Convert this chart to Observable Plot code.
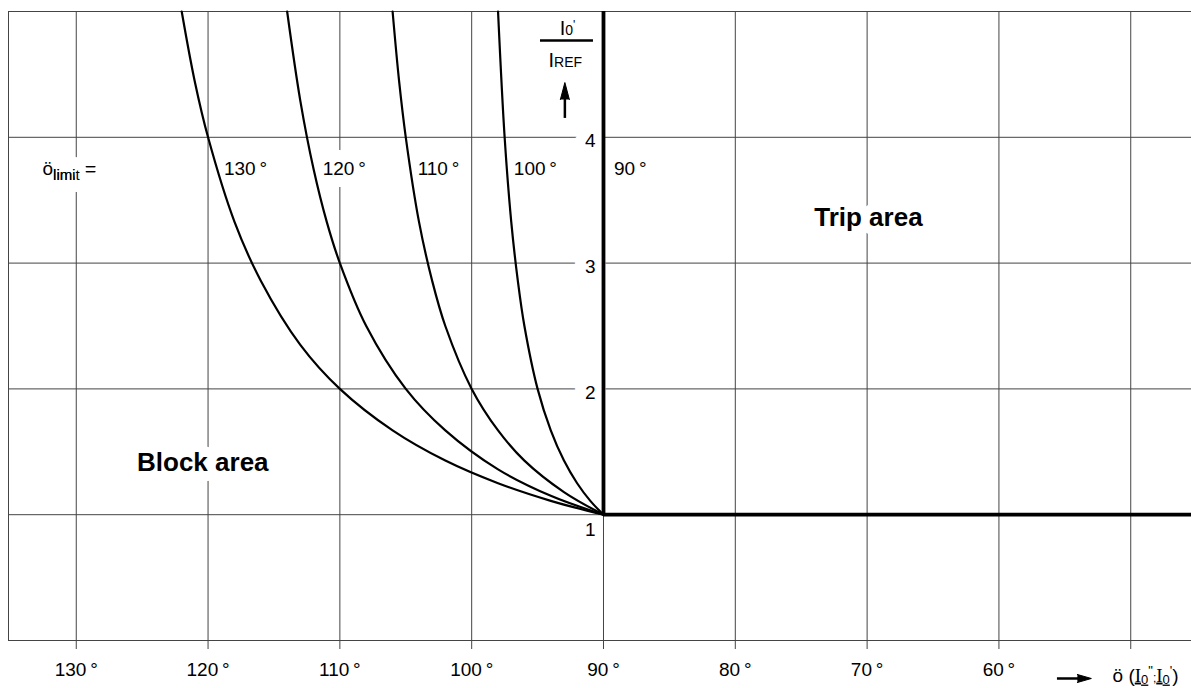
<!DOCTYPE html>
<html><head><meta charset="utf-8">
<script src="https://cdn.jsdelivr.net/npm/d3@7"></script>
<script src="https://cdn.jsdelivr.net/npm/@observablehq/plot@0.6"></script>
<style>
html,body{margin:0;padding:0;background:#fff;}
#chart svg{display:block;}
</style></head><body><div id="chart"></div>
<script>
// ---- data ----
const xTicks = [130, 120, 110, 100, 90, 80, 70, 60, 50];
const xTickLabels = ["130\u2009°", "120\u2009°", "110\u2009°", "100\u2009°", "90\u2009°", "80\u2009°", "70\u2009°", "60\u2009°", ""];
const yTicks = [1, 2, 3, 4];
const limitAngles = [130, 120, 110, 100];
const limitLabels = ["130\u2009°", "120\u2009°", "110\u2009°", "100\u2009°", "90\u2009°"];
// [phi (deg), I0'/IREF]
const curve130 = [[90,1.00],[94,1.11],[98,1.25],[102,1.43],[106,1.67],[110,2.00],[113,2.35],[116,2.86],[118,3.33],[120,4.00],[121,4.44],[122,5.00]];
const curve120 = [[90,1.00],[94,1.15],[98,1.36],[102,1.67],[105,2.00],[108,2.50],[110,3.00],[111,3.33],[112,3.75],[113,4.29],[114,5.00]];
const curve110 = [[90,1.00],[93,1.18],[96,1.43],[98,1.67],[100,2.00],[102,2.50],[103,2.86],[104,3.33],[105,4.00],[105.5,4.44],[106,5.00]];
const curve100 = [[90,1.00],[91,1.11],[92,1.25],[93,1.43],[94,1.67],[95,2.00],[96,2.50],[96.5,2.86],[97,3.33],[97.5,4.00],[98,5.00]];

const curveRows = [curve130, curve120, curve110, curve100]
  .flatMap((pts, i) => pts.map(([phi, ratio]) => ({lim: limitAngles[i], phi, ratio})));

const xDomain = [135.14, 45.39];
const grid = "#444";
const halo = {stroke: "white", strokeWidth: 24, strokeLinejoin: "round", fill: "black"};

const chart = Plot.plot({
  width: 1191, height: 688,
  marginLeft: 8, marginRight: 0, marginTop: 11, marginBottom: 48,
  x: {domain: xDomain},
  y: {domain: [0, 5], axis: null},
  style: {fontFamily: "'Liberation Sans', Arial, sans-serif", background: "white", color: "black", overflow: "visible"},
  marks: [
    Plot.ruleX(xTicks, {y1: 0, y2: 5, stroke: grid, strokeWidth: 1}),
    Plot.ruleY(yTicks, {stroke: grid, strokeWidth: 1}),
    Plot.ruleY([0, 5], {stroke: grid, strokeWidth: 1}),
    Plot.ruleX([xDomain[0]], {y1: 0, y2: 5, stroke: grid, strokeWidth: 1}),
    Plot.axisX(xTicks, {tickSize: 9, tickPadding: 13, fontSize: 19, stroke: grid,
      tickFormat: d => xTickLabels[xTicks.indexOf(d)], label: null}),
    // labels with white boxes (halos)
    Plot.text(["ölimit ="], {x: 132.56, y: 3.75, text: d => d, textAnchor: "start", fontSize: 19, ...halo}),
    Plot.text(limitLabels, {x: (d, i) => [118.8, 111.3, 104.1, 96.8, 89.2][i], y: 3.75, text: d => d,
      textAnchor: "start", fontSize: 19, ...halo}),
    Plot.text(["Block area"], {x: 120.4, y: 1.41, text: d => d, fontSize: 26, fontWeight: "bold", ...halo, strokeWidth: 20}),
    Plot.text(["Trip area"], {x: 69.9, y: 3.36, text: d => d, fontSize: 26, fontWeight: "bold", ...halo, strokeWidth: 18}),
    Plot.text(yTicks.filter(d => d > 1), {x: 90, y: d => d, text: d => String(d), textAnchor: "end",
      dx: -8, dy: 4, fontSize: 19, ...halo, strokeWidth: 22}),
    Plot.text(yTicks.filter(d => d === 1), {x: 90, y: d => d, text: d => String(d), textAnchor: "end",
      dx: -8, dy: 15, fontSize: 19}),
    // curves
    Plot.line(curveRows, {x: "phi", y: "ratio", z: "lim", curve: "catmull-rom", stroke: "black", strokeWidth: 2.2}),
    // boundary
    Plot.ruleX([90], {y1: 1, y2: 5, stroke: "black", strokeWidth: 3.8}),
    Plot.ruleY([1], {x1: 90, x2: xDomain[1], stroke: "black", strokeWidth: 3.8}),
    // y title
    Plot.text(["I0'"], {x: 92.73, y: 4.865, text: d => d, fontSize: 20}),
    Plot.ruleY([4.769], {x1: 94.78, x2: 90.76, stroke: "black", strokeWidth: 2.5}),
    Plot.text(["IREF"], {x: 92.9, y: 4.61, text: d => d, fontSize: 20}),
    Plot.ruleX([92.93], {y1: 4.15, y2: 4.32, stroke: "black", strokeWidth: 2.5}),
    Plot.vector([0], {x: 92.93, y: 4.30, length: 17, r: 4.5, rotate: 0, shape: "spike", anchor: "start",
      fill: "black", fillOpacity: 1, stroke: "black", strokeWidth: 1}),
    // x title
    Plot.ruleY([-0.302], {x1: 55.56, x2: 53.9, stroke: "black", strokeWidth: 2.5}),
    Plot.vector([0], {x: 54.05, y: -0.302, length: 14, r: 4, rotate: 90, shape: "spike", anchor: "start",
      fill: "black", fillOpacity: 1, stroke: "black", strokeWidth: 1}),
    Plot.text(["ö(I0\";I0')"], {x: 51.38, y: -0.278, text: d => d, textAnchor: "start", fontSize: 19})
  ]
});

function rich(svg, match, parts, haloed) {
  d3.select(svg).selectAll("text").filter(function () { return this.textContent === match; }).each(function () {
    const t = d3.select(this);
    t.text(null);
    for (const p of parts) {
      const s = t.append("tspan").text(p.t);
      if (p.size) s.attr("font-size", p.size);
      if (p.dy) s.attr("dy", p.dy);
      if (p.family) s.attr("font-family", p.family);
      if (p.deco) s.attr("text-decoration", p.deco);
    }
    if (haloed) {
      // keep the white box behind all glyphs: draw a stroke-less copy on top
      const copy = this.cloneNode(true);
      copy.setAttribute("stroke", "none");
      copy.setAttribute("paint-order", "normal");
      this.parentNode.appendChild(copy);
    }
  });
}
rich(chart, "ölimit =", [{t: "ö"}, {t: "limit", size: 15, dy: 5}, {t: " =", size: 19, dy: -5}], true);
rich(chart, "I0'", [{t: "I"}, {t: "0", size: 14}, {t: "'", size: 12, dy: -6}]);
rich(chart, "IREF", [{t: "I"}, {t: "REF", size: 14}]);
rich(chart, "ö(I0\";I0')", [{t: "ö ("}, {t: "I", family: "'Liberation Serif', serif", deco: "underline"},
  {t: "0", size: 13, dy: 2, deco: "underline"}, {t: "\"", size: 13, dy: -9}, {t: ";", size: 12, dy: 7},
  {t: "I", family: "'Liberation Serif', serif", deco: "underline"}, {t: "0", size: 13, dy: 2, deco: "underline"},
  {t: "'", size: 13, dy: -9}, {t: ")", dy: 7}]);

document.getElementById("chart").appendChild(chart);
</script></body></html>
